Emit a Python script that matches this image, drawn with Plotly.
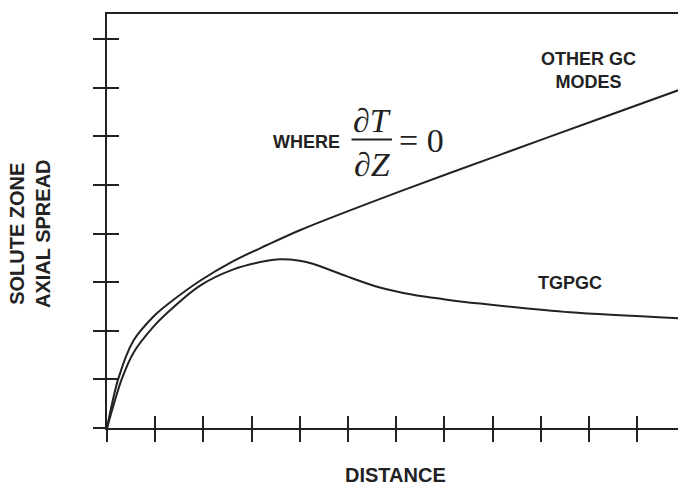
import plotly.graph_objects as go

# Data
distance_other = [0, 0.23, 0.55, 0.96, 1.24, 1.93, 2.61, 3.31, 4.0, 6.08, 8.15, 10.23, 11.85]
spread_other = [0, 1.0, 1.8, 2.29, 2.53, 3.03, 3.43, 3.76, 4.07, 4.87, 5.62, 6.37, 6.95]

distance_tgpgc = [0, 0.3, 0.55, 0.96, 1.24, 1.93, 2.61, 3.32, 3.59, 4.0, 4.27, 4.98, 5.66, 6.35, 7.05, 7.74, 9.61, 11.85]
spread_tgpgc = [0, 0.99, 1.55, 2.08, 2.36, 2.93, 3.26, 3.44, 3.47, 3.44, 3.38, 3.12, 2.89, 2.74, 2.64, 2.56, 2.38, 2.26]

x_ticks = list(range(0, 12))
y_ticks = list(range(0, 9))
x_range = [0, 11.846]
y_range = [0, 8.519]

INK = "#222222"

fig = go.Figure()
fig.add_trace(go.Scatter(x=distance_other, y=spread_other, mode="lines",
                         line=dict(color=INK, width=2, shape="spline", smoothing=0.8),
                         hoverinfo="skip", showlegend=False))
fig.add_trace(go.Scatter(x=distance_tgpgc, y=spread_tgpgc, mode="lines",
                         line=dict(color=INK, width=2, shape="spline", smoothing=0.8),
                         hoverinfo="skip", showlegend=False))
# invisible trace to bind overlay axes (inside tick halves)
fig.add_trace(go.Scatter(x=[0], y=[0], xaxis="x2", yaxis="y2", mode="markers",
                         marker=dict(opacity=0), hoverinfo="skip", showlegend=False))

axis_common = dict(showgrid=False, zeroline=False, showticklabels=False,
                   tickwidth=2, tickcolor=INK, ticklen=12)

fig.update_layout(
    width=678, height=486,
    margin=dict(l=107, r=0, t=14, b=58),
    paper_bgcolor="white", plot_bgcolor="white",
    xaxis=dict(range=x_range, tickvals=x_ticks, ticks="outside",
               showline=True, linecolor=INK, linewidth=2, mirror=True, **axis_common),
    yaxis=dict(range=y_range, tickvals=y_ticks, ticks="outside",
               showline=True, linecolor=INK, linewidth=2, **axis_common),
    xaxis2=dict(range=x_range, tickvals=x_ticks, ticks="inside", overlaying="x",
                anchor="y", side="bottom", showline=False, **axis_common),
    yaxis2=dict(range=y_range, tickvals=y_ticks, ticks="inside", overlaying="y",
                anchor="x", side="left", showline=False, **axis_common),
    font=dict(family="Liberation Sans, Arial, sans-serif", color=INK),
)

def px_x(px):
    return (px - 107) / 571.0

def px_y(py):
    return (428 - py) / 414.0

sans_bold = dict(family="Liberation Sans, Arial, sans-serif", size=18, color=INK)
serif = dict(family="Liberation Serif, Times New Roman, serif", size=34, color=INK)

annotations = [
    dict(text="<b>OTHER GC<br>MODES</b>", x=px_x(588), y=px_y(71), font=sans_bold),
    dict(text="<b>TGPGC</b>", x=px_x(570), y=px_y(283), font=sans_bold),
    dict(text="<b>WHERE</b>", x=px_x(306), y=px_y(142), font=sans_bold),
    dict(text="∂<i>T</i>", x=px_x(372), y=px_y(120), font=serif),
    dict(text="∂<i>Z</i>", x=px_x(372), y=px_y(164), font=serif),
    dict(text="= 0", x=px_x(421), y=px_y(140), font=serif),
    dict(text="<b>DISTANCE</b>", x=px_x(395), y=-(475 - 428) / 414.0,
         font=dict(family="Liberation Sans, Arial, sans-serif", size=20, color=INK)),
    dict(text="<b>SOLUTE ZONE<br>AXIAL SPREAD</b>", x=-(107 - 30) / 571.0, y=px_y(234),
         textangle=-90,
         font=dict(family="Liberation Sans, Arial, sans-serif", size=20, color=INK)),
]
for a in annotations:
    a.update(xref="paper", yref="paper", showarrow=False,
             xanchor="center", yanchor="middle")
fig.update_layout(annotations=annotations)

fig.add_shape(type="line", xref="paper", yref="paper",
              x0=px_x(351.5), x1=px_x(392), y0=px_y(139.5), y1=px_y(139.5),
              line=dict(color=INK, width=2))

fig.write_html("out.html")
